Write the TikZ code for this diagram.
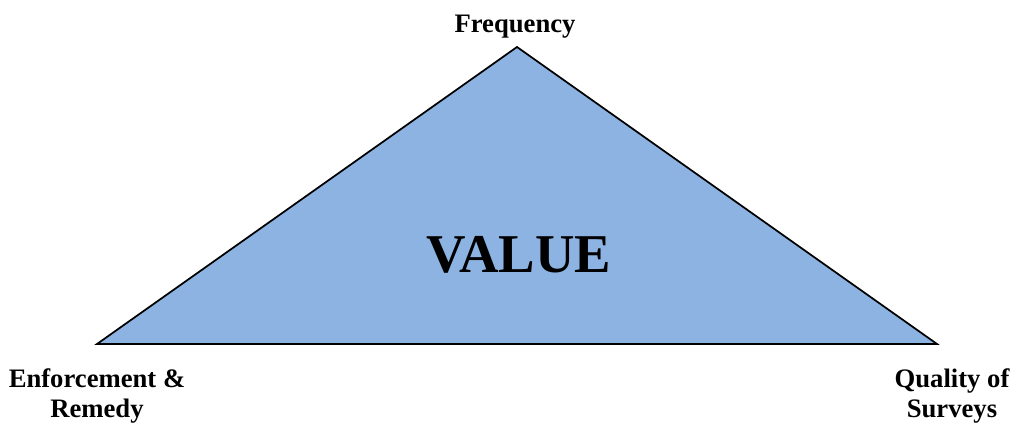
\documentclass[tikz,border=0pt]{standalone}
\usepackage{fontspec}
\setmainfont{Liberation Serif}
\usetikzlibrary{positioning}
\definecolor{valBlue}{HTML}{8DB3E2}
\tikzset{
  corner/.style={font=\bfseries\fontsize{20}{21.75}\selectfont, align=center, anchor=base, inner sep=0pt},
  big/.style={font=\bfseries\fontsize{41}{44}\selectfont, anchor=base, inner sep=0pt},
  tri/.style={draw=black, fill=valBlue, line width=1.3pt, line join=miter},
}
\begin{document}
\begin{tikzpicture}[x=0.75pt,y=-0.75pt]
  \useasboundingbox (0,0) rectangle (1013,423);
  % triangle corners
  \coordinate (apex) at (517,47);
  \coordinate (left) at (97,344);
  \coordinate (right) at (937,344);
  \draw[tri] (apex) -- (right) -- (left) -- cycle;
  % labels
  \node[big] (value) at (519,273) {VALUE};
  \node[corner] (freq) at (515,33) {Frequency};
  \node[corner] (enf) at (97,417) {Enforcement \&\\Remedy};
  \node[corner] (qual) at (952,417) {Quality of\\Surveys};
\end{tikzpicture}
\end{document}
